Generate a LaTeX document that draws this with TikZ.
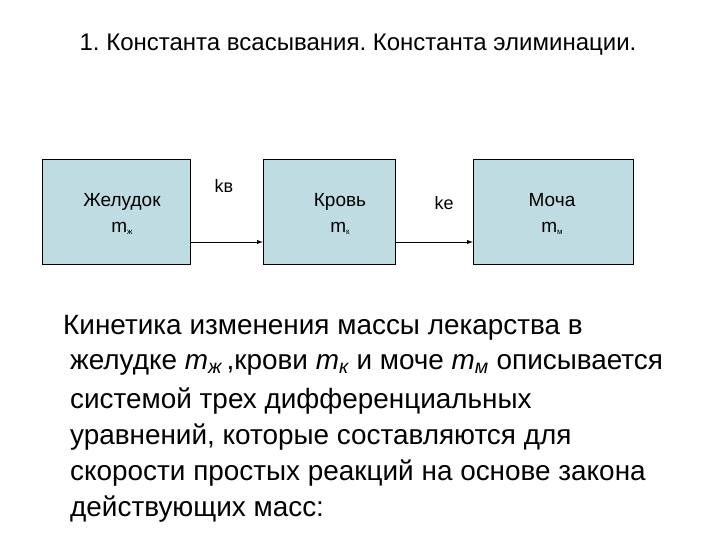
\documentclass[tikz,border=0pt]{standalone}
\usepackage{fontspec}
\setmainfont{Liberation Sans}
\frenchspacing
\begin{document}
\begin{tikzpicture}[x=1pt,y=-1pt,
  box/.style={draw=black,fill={rgb,255:red,190;green,220;blue,225},minimum height=105pt,inner sep=0pt},
  lbl/.style={align=center,inner sep=0pt,font=\fontsize{19}{26}\selectfont},
  body/.style={anchor=west,inner sep=0pt,font=\fontsize{27.9}{30}\selectfont},
  arr/.style={draw,line width=1pt,-latex}]
\useasboundingbox (0,0) rectangle (720,540);
\node[inner sep=0pt,font=\fontsize{24}{28}\selectfont] (t) at (358,45) {1. Константа всасывания. Константа элиминации.};
\node[box,minimum width=148pt] (a) at (116,212) {};
\node[box,minimum width=132pt] (b) at (329,212) {};
\node[box,minimum width=160pt] (c) at (553,212) {};
\node[lbl] (ta) at (122,214) {Желудок\\m\raisebox{-2pt}{\footnotesize ж}};
\node[lbl] (tb) at (340,214) {Кровь\\m\raisebox{-2pt}{\footnotesize к}};
\node[lbl] (tc) at (552,214) {Моча\\m\raisebox{-2pt}{\footnotesize м}};
\draw[arr] (a.east|-0,242) -- (b.west|-0,242);
\draw[arr] (b.east|-0,242) -- (c.west|-0,242);
\node[font=\fontsize{18}{20}\selectfont] (k1) at (224,186) {kв};
\node[font=\fontsize{18}{20}\selectfont] (k2) at (444,203) {ke};
\node[body] (l1) at (63,328) {Кинетика изменения массы лекарства в};
\node[body] (l2) at (70,365) {желудке \textit{m\textsubscript{ж}}\,,крови \textit{m\textsubscript{к}} и моче \textit{m\textsubscript{м}} описывается};
\node[body] (l3) at (70,401) {системой трех дифференциальных};
\node[body] (l4) at (70,437) {уравнений, которые составляются для};
\node[body] (l5) at (70,473) {скорости простых реакций на основе закона};
\node[body] (l6) at (70,509) {действующих масс:};
\end{tikzpicture}
\end{document}
